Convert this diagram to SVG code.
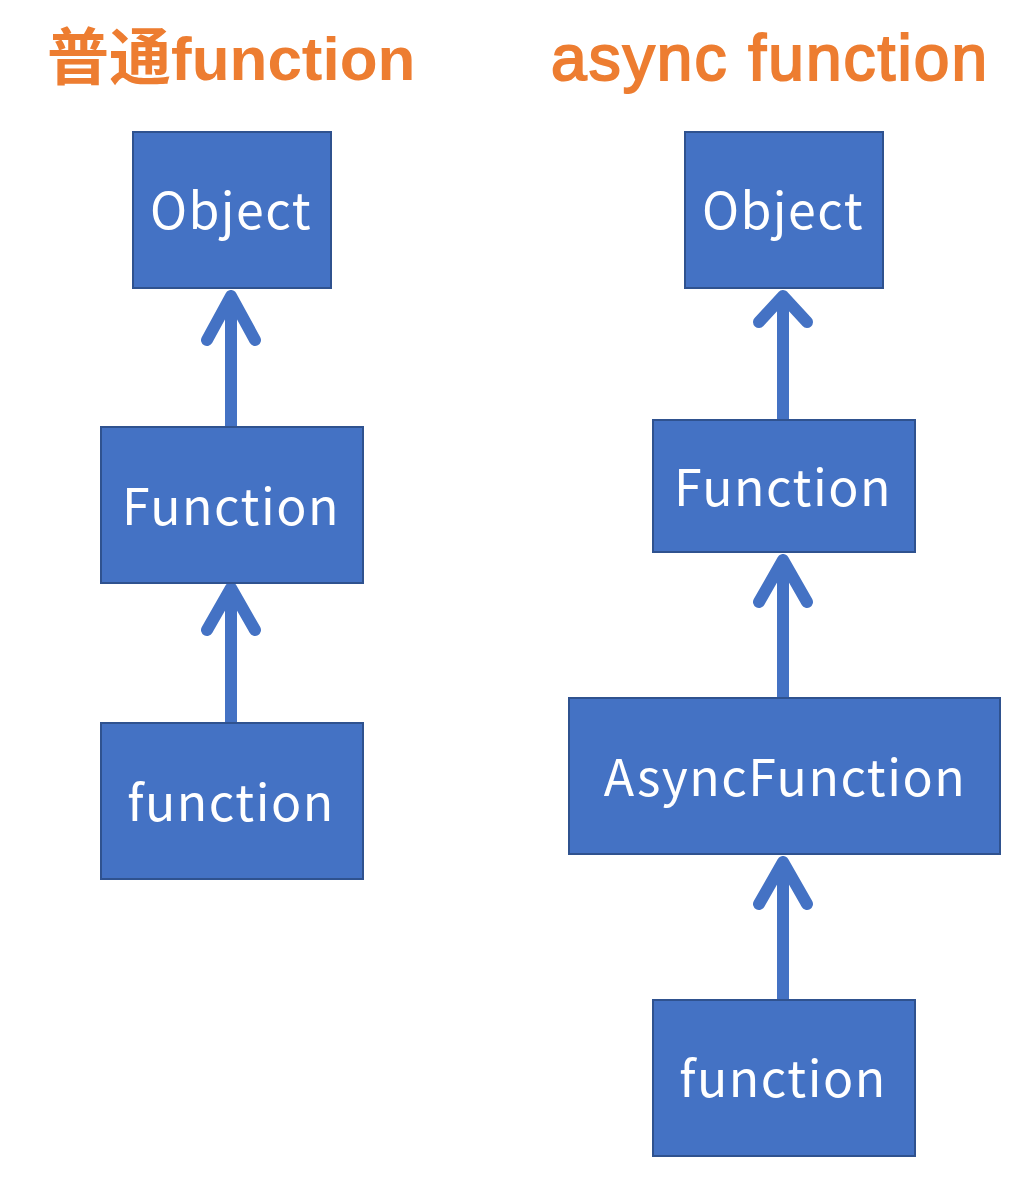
<svg xmlns="http://www.w3.org/2000/svg" width="1016" height="1180" viewBox="0 0 1016 1180">
<style>
.box{fill:#4472C4;stroke:#2F528F;stroke-width:2}
.lbl{fill:#fff;font-family:"Noto Sans CJK SC","DejaVu Sans",sans-serif;font-size:50px;letter-spacing:1.5px;text-anchor:middle}
.title{fill:#ED7D31;font-family:"Liberation Sans","Noto Sans CJK SC",sans-serif;font-size:62px;font-weight:bold}
.title2{fill:#ED7D31;stroke:#ED7D31;stroke-width:2;font-family:"Liberation Sans",sans-serif;font-size:64px}
.conn{stroke:#4472C4;stroke-width:12;fill:none;stroke-linecap:round;stroke-linejoin:round}
</style>
<rect width="1016" height="1180" fill="#fff"/>
<text class="title" x="47" y="80">普通function</text>
<text class="title2" x="551" y="80" textLength="436" lengthAdjust="spacing">async function</text>
<g id="connectors">
<path class="conn" d="M231 427V296M207 340L231 296L255 340"/>
<path class="conn" d="M231 723V592M207 630L231 588L255 630"/>
<path class="conn" d="M783 420V296M759 322L783 296L807 322"/>
<path class="conn" d="M783 698V560M759 602L783 560L807 602"/>
<path class="conn" d="M783 1000V862M759 904L783 862L807 904"/>
</g>
<g id="l-object"><rect class="box" x="133" y="132" width="198" height="156"/><text class="lbl" x="231" y="229">Object</text></g>
<g id="l-Function"><rect class="box" x="101" y="427" width="262" height="156"/><text class="lbl" x="231" y="525">Function</text></g>
<g id="l-function"><rect class="box" x="101" y="723" width="262" height="156"/><text class="lbl" x="231" y="821">function</text></g>
<g id="r-object"><rect class="box" x="685" y="132" width="198" height="156"/><text class="lbl" x="783" y="229">Object</text></g>
<g id="r-Function"><rect class="box" x="653" y="420" width="262" height="132"/><text class="lbl" x="783" y="506">Function</text></g>
<g id="r-AsyncFunction"><rect class="box" x="569" y="698" width="431" height="156"/><text class="lbl" x="785" y="796">AsyncFunction</text></g>
<g id="r-function"><rect class="box" x="653" y="1000" width="262" height="156"/><text class="lbl" x="783" y="1097">function</text></g>
</svg>
